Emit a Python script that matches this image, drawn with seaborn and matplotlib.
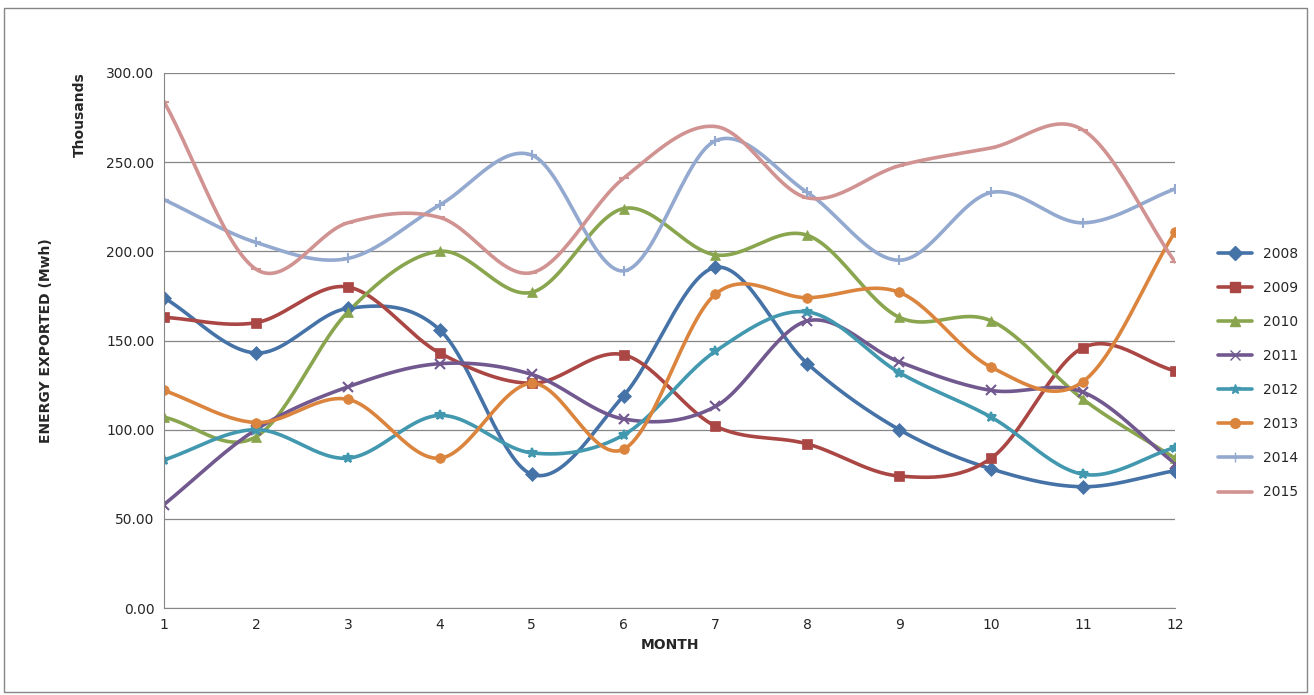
import numpy as np
import pandas as pd
import seaborn as sns
import matplotlib
matplotlib.use('Agg')
import matplotlib.pyplot as plt
from matplotlib.lines import Line2D

MESI = list(range(1, 13))
ANNI = ['2008', '2009', '2010', '2011', '2012', '2013', '2014', '2015']
V2008 = [174, 143, 168, 156, 75, 119, 191, 137, 100, 78, 68, 77]
V2009 = [163, 160, 180, 143, 126, 142, 102, 92, 74, 84, 146, 133]
V2010 = [107, 96, 166, 200, 177, 224, 198, 209, 163, 161, 117, 84]
V2011 = [58, 100, 124, 137, 131, 106, 113, 161, 138, 122, 121, 81]
V2012 = [83, 100, 84, 108, 87, 97, 144, 166, 132, 107, 75, 90]
V2013 = [122, 104, 117, 84, 126, 89, 176, 174, 177, 135, 127, 211]
V2014 = [229, 205, 196, 226, 254, 189, 262, 233, 195, 233, 216, 235]
V2015 = [284, 190, 216, 219, 188, 241, 270, 230, 248, 258, 268, 194]
VALORI = [V2008, V2009, V2010, V2011, V2012, V2013, V2014, V2015]
COLORI = ['#4572A7', '#AA4643', '#89A54E', '#71588F', '#4198AF', '#DB843D', '#93A9CF', '#D19392']
MARKER = ['D', 's', '^', 'x', '*', 'o', '+', '_']


def curva_liscia(x, y, n=30):
    # Catmull-Rom, simile allo smoothing di Excel
    x = np.asarray(x, float); y = np.asarray(y, float)
    px = np.concatenate([[2 * x[0] - x[1]], x, [2 * x[-1] - x[-2]]])
    py = np.concatenate([[2 * y[0] - y[1]], y, [2 * y[-1] - y[-2]]])
    xs, ys = [], []
    t = np.linspace(0, 1, n)
    for i in range(1, len(px) - 2):
        for p, out in ((px, xs), (py, ys)):
            p0, p1, p2, p3 = p[i - 1], p[i], p[i + 1], p[i + 2]
            out.extend(0.5 * (2 * p1 + (-p0 + p2) * t + (2 * p0 - 5 * p1 + 4 * p2 - p3) * t ** 2
                              + (-p0 + 3 * p1 - 3 * p2 + p3) * t ** 3))
    return np.array(xs), np.array(ys)


sns.set_style('white')
fig = plt.figure(figsize=(13.14, 6.95), dpi=100)
ax = fig.add_axes([164 / 1314, 1 - 608 / 695, 1011 / 1314, 535 / 695])

righe = []
for anno, v in zip(ANNI, VALORI):
    xs, ys = curva_liscia(MESI, v)
    righe.append(pd.DataFrame({'x': xs, 'y': ys, 'anno': anno}))
df = pd.concat(righe)
sns.lineplot(data=df, x='x', y='y', hue='anno', palette=COLORI, linewidth=2.6,
             legend=False, ax=ax, sort=False, estimator=None)
punti = pd.DataFrame({'x': MESI * len(ANNI), 'y': sum(VALORI, []),
                      'anno': [a for a in ANNI for _ in MESI]})
for anno, col, m in zip(ANNI, COLORI, MARKER):
    d = punti[punti.anno == anno]
    ax.plot(d.x, d.y, linestyle='none', marker=m, color=col, markersize=7,
            markeredgewidth=1.5 if m in 'x+*_' else 0.5)

ax.set_xlim(1, 12)
ax.set_ylim(0, 300)
ax.set_xticks(MESI)
ax.set_yticks(np.arange(0, 301, 50))
ax.set_yticklabels([f'{t:.2f}' for t in np.arange(0, 301, 50)], fontsize=10)
ax.tick_params(axis='x', labelsize=10, length=4, direction='out')
ax.yaxis.grid(True, color='#868686', linewidth=0.9)
for s in ['top', 'right']:
    ax.spines[s].set_visible(False)
for s in ['left', 'bottom']:
    ax.spines[s].set_color('#868686')
ax.set_xlabel('MONTH', fontsize=10, fontweight='bold')
ax.set_ylabel('ENERGY EXPORTED (Mwh)', fontsize=10, fontweight='bold', labelpad=38)
fig.text(80 / 1314, 1 - 115 / 695, 'Thousands', rotation=90, fontsize=10,
         fontweight='bold', ha='center', va='center')

maniglie = [Line2D([0], [0], color=c, marker=m, linewidth=2.6, markersize=7)
            for c, m in zip(COLORI, MARKER)]
fig.legend(maniglie, ANNI, loc='center left', bbox_to_anchor=(1205 / 1314, 1 - 373 / 695),
           frameon=False, fontsize=10, labelspacing=1.45, handlelength=2.5)
fig.patches.append(plt.Rectangle((4 / 1314, 0.005), 1303 / 1314, 1 - 8 / 695 - 0.005,
                                 transform=fig.transFigure, fill=False, edgecolor='#868686'))
fig.savefig('out.png', dpi=100)
